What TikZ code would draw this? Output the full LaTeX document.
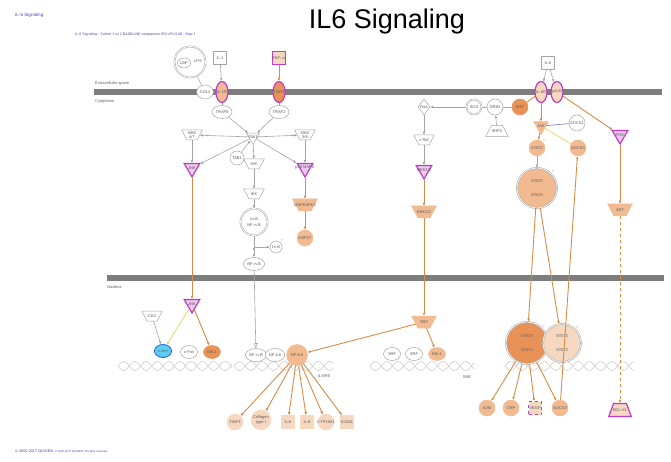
\documentclass[tikz,border=0pt]{standalone}
\usepackage{fontspec}
\setmainfont{Liberation Sans}
\usetikzlibrary{positioning,shapes.geometric,arrows.meta}
\definecolor{ipagray}{RGB}{165,165,165}
\definecolor{ipabar}{RGB}{125,125,125}
\definecolor{ipatext}{RGB}{90,90,90}
\definecolor{ipablue}{RGB}{70,70,170}
\definecolor{ipamag}{RGB}{190,60,200}
\definecolor{ipapink}{RGB}{236,200,236}
\definecolor{orA}{RGB}{246,215,192}
\definecolor{orB}{RGB}{241,186,145}
\definecolor{orC}{RGB}{232,146,88}
\definecolor{oredge}{RGB}{214,140,70}
\definecolor{yedge}{RGB}{228,222,120}
\definecolor{bedge}{RGB}{120,120,200}
\definecolor{cjunfill}{RGB}{95,205,238}
\definecolor{cjunline}{RGB}{40,110,220}

\begin{document}
\begin{tikzpicture}[x=1pt, y=-1pt, >={Latex[length=3pt,width=2.6pt]},
    every node/.style={inner sep=0pt, align=center, text=ipatext, font=\fontsize{4}{4.4}\selectfont},
    mol/.style={draw=ipagray, fill=white, line width=0.5pt, inner sep=0.8pt},
    lbl/.style={label={center:#1}},
    other/.style={mol, circle, minimum size=16pt},
    tfac/.style={mol, ellipse, minimum width=17pt, minimum height=13pt},
    cytokine/.style={mol, rectangle, minimum size=13pt},
    receptor/.style={mol, ellipse, minimum width=12pt, minimum height=21pt},
    kinase/.style={mol, regular polygon, regular polygon sides=3, shape border rotate=180, minimum size=18pt},
    kingroup/.style={mol, trapezium, trapezium angle=62, shape border rotate=180, minimum width=15pt, minimum height=10pt},
    complex/.style={mol, circle, double=white, double distance=0.7pt},
    hit/.style={draw=ipamag, line width=1.2pt},
    gline/.style={draw=ipagray, line width=0.6pt},
    oline/.style={draw=oredge, line width=0.9pt},
    yline/.style={draw=yedge, line width=0.9pt},
    phos/.style={label={[font=\fontsize{3}{3}\selectfont, text=ipagray, inner sep=0.5pt]45:P}},
    dna/.style={draw=gray!35, line width=0.7pt}]
  \useasboundingbox (0,0) rectangle (671,462);

  % headers and footer
  \node[anchor=west, text=ipablue, font=\fontsize{4.6}{5}\selectfont] (hdr) at (15,15) {IL-6 Signaling};
  \node[anchor=west, text=ipablue, font=\fontsize{3.6}{4}\selectfont] (sub) at (75,35) {IL-6 Signaling : Cohort 1 vs 2 BASELINE comparison IPA UPLOAD : Expr f};
  \node[anchor=base, text=black, font=\fontsize{27}{30}\selectfont] (title) at (387,29) {IL6 Signaling};
  \node[anchor=west, text=ipablue, font=\fontsize{3.8}{4}\selectfont] (foot) at (15,452) {\textcopyright{} 2000-2017 QIAGEN. {\fontsize{2.8}{3}\selectfont\textcopyright{} 2000-2017 QIAGEN. All rights reserved.}};

  % membranes
  \fill[ipabar] (94,89) rectangle (662,95);
  \fill[ipabar] (107,275) rectangle (664,281);
  \node[anchor=west] (exsp) at (95,83) {Extracellular space};
  \node[anchor=west] (cyto) at (95,101) {Cytoplasm};
  \node[anchor=west] (nucl) at (107,287) {Nucleus};

  % DNA strands
  \foreach \a/\b in {118/232, 234/333, 370/474, 505/634} {
    \draw[dna] plot[domain=\a:\b, samples=80, smooth] (\x,{366+4.5*sin((\x-\a)*16)});
    \draw[dna] plot[domain=\a:\b, samples=80, smooth] (\x,{366-4.5*sin((\x-\a)*16)});
  }
  \node (ilre) at (324,376) {IL-6RE};
  \node (sre) at (467,377) {SRE};

  % IL-1 / TNF branch
  \node[complex, minimum size=31pt] (lpscx) at (190,62) {};
  \node[tfac, minimum width=13pt, minimum height=10pt] (lbp) at (184,63) {LBP};
  \node (lps) at (198,61) {LPS};
  \node[tfac, minimum width=15pt, minimum height=14pt] (cd14) at (205,92) {CD14};
  \node[cytokine] (il1) at (220,58) {IL-1};
  \node[receptor, hit, fill=orB, lbl=IL-1R] (il1r) at (222,92) {};
  \node[cytokine, hit, fill=orA, lbl=TNF-$\alpha$] (tnf) at (279,58) {};
  \node[receptor, hit, fill=orC, lbl=TNFR] (tnfr) at (279,92) {};
  \node[tfac] (traf6) at (222,112) {TRAF6};
  \node[tfac] (traf2) at (279,112) {TRAF2};
  \node[kinase, minimum size=15pt, lbl=TAK1] (tak1) at (253,137) {};
  \node[other, minimum size=14pt] (tab1) at (237,158) {TAB1};
  \node[kingroup, lbl={MKK\\4/7}] (mkk47) at (192,135) {};
  \node[kingroup, lbl={MKK\\3/6}] (mkk36) at (305,135) {};
  \node[kinase, hit, fill=ipapink, lbl=JNK] (jnk) at (192,168) {};
  \node[kinase, hit, fill=ipapink, lbl={p38 MAPK}] (p38) at (305,168) {};
  \node[kingroup, lbl=NIK] (nik) at (254,164) {};
  \node[kingroup, lbl=IKK] (ikk) at (254,194) {};
  \node[complex, minimum size=27pt] (ikbnfkb) at (254,222) {I$\kappa$B\\[2pt]NF-$\kappa$B};
  \node[other, minimum size=12pt, phos] (ikbp) at (276,247) {I$\kappa$B};
  \node[tfac] (nfkb) at (254,264) {NF-$\kappa$B};
  \node[kingroup, fill=orB, draw=orB, minimum height=12pt, lbl=MAPKAPK2] (mapkapk2) at (305,205) {};
  \node[other, fill=orB, draw=orB, below of=mapkapk2, node distance=33pt] (hsp27) {HSP27};
  \coordinate (ikbbr) at (254,247);

  % IL-6 branch
  \node[cytokine] (il6) at (548,63) {IL-6};
  \node[receptor, hit, fill=orA, lbl=IL-6R] (il6r) at (541,92) {};
  \node[receptor, hit, fill=orA, lbl=gp130] (gp130) at (557,92) {};
  \node[other, fill=orC, draw=orC] (shc) at (520,107) {SHC};
  \node[other] (grb2) at (495,107) {GRB2};
  \node[complex, minimum size=15pt] (sos) at (474,107) {SOS};
  \node[mol, diamond, aspect=0.7, minimum width=12pt, minimum height=16pt, lbl=Ras] (ras) at (424,107) {};
  \node[mol, trapezium, trapezium angle=62, minimum width=15pt, minimum height=11pt, lbl=SHP2] (shp2) at (497,131) {};
  \node[kingroup, lbl=c-Raf] (craf) at (424,140) {};
  \node[kinase, hit, fill=ipapink, lbl=MEK1/2] (mek) at (424,170) {};
  \node[kingroup, fill=orB, draw=orB, minimum height=12pt, lbl=ERK1/2] (erk) at (424,212) {};
  \node[kinase, fill=orB, draw=orB, minimum size=17pt, lbl=JAK] (jak) at (541,126) {};
  \node[other] (socs1) at (577,123) {SOCS1};
  \node[other, fill=orB, draw=orB, phos] (stat3) at (537,148) {STAT3};
  \node[complex, fill=orB, minimum size=40pt, phos] (stat3d) at (537,188) {STAT3\\[9pt]STAT3};
  \node[other, fill=orB, draw=orB] (socs3c) at (578,148) {SOCS3};
  \node[kinase, hit, fill=ipapink, lbl=PI3K] (pi3k) at (620,135) {};
  \node[kingroup, fill=orB, draw=orB, minimum height=12pt, lbl=AKT] (akt) at (620,210) {};

  % nucleus
  \node[kinase, hit, fill=ipapink, lbl=JNK] (jnkn) at (192,304) {};
  \node[kingroup, lbl=CK2] (ck2) at (152,316) {};
  \node[tfac, fill=cjunfill, draw=cjunline, line width=0.9pt] (cjun) at (163,351) {c-Jun};
  \node[tfac] (cfos) at (189,352) {c-Fos};
  \node[tfac, fill=orC, draw=orC] (elk1a) at (212,352) {Elk-1};
  \node[tfac] (nfkbn) at (256,355) {NF-$\kappa$B};
  \node[tfac] (nfil6a) at (275,355) {NF-IL6};
  \node[other, fill=orB, draw=orB, minimum size=21pt] (nfil6b) at (297,355) {NF-IL6};
  \node[kingroup, fill=orB, draw=orB, minimum height=12pt, lbl=SRF] (srf) at (424,322) {};
  \node[tfac] (srfa) at (392,354) {SRF};
  \node[tfac] (srfb) at (414,354) {SRF};
  \node[tfac, fill=orB, draw=orB] (elk1b) at (437,354) {Elk-1};
  \node[complex, fill=orC, minimum size=42pt, phos] (stat3n1) at (527,343) {STAT3\\[10pt]STAT3};
  \node[complex, fill=orA, minimum size=38pt, phos] (stat3n2) at (562,343) {STAT3\\[9pt]STAT3};

  % target genes
  \node[other, fill=orA, draw=orA] (timp1) at (235,422) {TIMP1};
  \node[other, fill=orA, draw=orA] (col1) at (261,420) {Collagen\\type I};
  \node[cytokine, fill=orA, draw=orA] (il6g) at (288,422) {IL-6};
  \node[cytokine, fill=orA, draw=orA] (il8) at (307,422) {IL-8};
  \node[other, fill=orA, draw=orA, lbl=CYP19A1] (cyp) at (326,422) {};
  \node[cytokine, fill=orA, draw=orA, lbl=ICAM1] (icam) at (347,422) {};
  \node[other, fill=orB, draw=orB] (a2m) at (487,408) {A2M};
  \node[other, fill=orB, draw=orB] (crp) at (511,408) {CRP};
  \node[cytokine, fill=orA, draw=ipamag, line width=0.9pt, dashed, lbl=VEGF] (vegf) at (535,408) {};
  \node[other, fill=orB, draw=orB] (socs3n) at (560,408) {SOCS3};
  \node[mol, trapezium, trapezium angle=70, hit, fill=orA, minimum width=14pt, minimum height=13pt, lbl=BCL-XL] (bclxl) at (620,410) {};

  % connectors, IL-1 / TNF
  \path[gline] (lpscx) edge (cd14);
  \path[->, gline] (il1) edge (il1r);
  \path[->, oline] (tnf) edge (tnfr);
  \path[gline] (il1r) edge (traf6) (tnfr) edge (traf2);
  \path[->, gline] (traf6) edge (tak1) (traf2) edge (tak1) (tab1) edge (tak1);
  \path[->, gline] (tak1) edge (mkk47) (tak1) edge (mkk36) (tak1) edge (jnk)
    (tak1) edge (p38) (tak1) edge (nik);
  \path[->, gline] (mkk47) edge (jnk) (mkk36) edge (p38);
  \path[->, gline] (nik) edge (ikk) (ikk) edge (ikbnfkb) (ikbnfkb) edge (nfkb) (ikbbr) edge (ikbp);
  \path[->, oline] (p38) edge (mapkapk2) (mapkapk2) edge (hsp27);
  \path[->, oline] (jnk) edge (jnkn);
  \path[-{Triangle[open,length=5pt,width=4pt]}, gline] (nfkb) edge (nfkbn);
  \path[->, yline] (jnkn) edge (cjun);
  \path[->, oline] (jnkn) edge (elk1a);
  \path[->, gline] (ck2) edge (cjun);
  \foreach \g in {timp1,col1,il6g,il8,cyp,icam}
    \path[->, oline] (nfil6b) edge (\g);

  % connectors, IL-6
  \path[->, gline] (il6) edge (il6r) (il6) edge (gp130);
  \path[oline] (il6r) edge (shc);
  \path[gline] (shc) edge (grb2) (grb2) edge (sos);
  \path[->, gline] (sos) edge (ras) (shp2) edge (grb2) (ras) edge (craf) (craf) edge (mek);
  \path[->, oline] (mek) edge (erk) (erk) edge (srf) (srf) edge (elk1b) (srf) edge (nfil6b);
  \path[->, oline] (il6r) edge (jak) (jak) edge (stat3) (gp130) edge (pi3k) (pi3k) edge (akt);
  \path[draw=bedge, line width=0.6pt] (jak) edge (socs1);
  \path[yline] (jak) edge (socs3c);
  \path[->, gline] (stat3) edge (stat3d);
  \path[->, oline] (stat3d) edge (stat3n1) (stat3d) edge (stat3n2) (socs3n) edge (socs3c);
  \path[->, oline, dashed] (akt) edge (bclxl);
  \foreach \g in {a2m,crp,vegf,socs3n}
    \path[->, oline] (stat3n1) edge (\g);
\end{tikzpicture}
\end{document}
